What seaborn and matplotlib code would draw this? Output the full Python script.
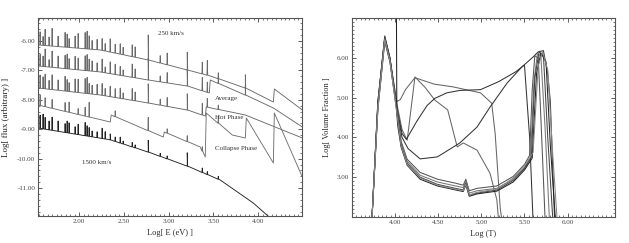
import numpy as np
import pandas as pd
import matplotlib
matplotlib.use("Agg")
import matplotlib.pyplot as plt
from matplotlib.ticker import MultipleLocator, FormatStrFormatter
import seaborn as sns

# ---------------- left panel data ----------------
line_energies = [1.564, 1.597, 1.620, 1.664, 1.698, 1.765, 1.843, 1.866, 1.888, 1.955,
                 1.989, 2.067, 2.089, 2.112, 2.145, 2.201, 2.257, 2.291, 2.347, 2.403,
                 2.459, 2.492, 2.593, 2.626, 2.772, 2.906, 2.984, 3.208, 3.376, 3.432,
                 3.555, 3.857]

# continuum (baseline) vertices of each spectrum
cont_a_x = [1.541, 2.235, 2.772, 3.208, 3.465, 3.857, 4.170, 4.181, 4.494]
cont_a_y = [-6.136, -6.306, -6.646, -6.986, -7.190, -7.599, -8.075, -7.633, -8.347]
cont_b_x = [1.541, 2.235, 2.772, 3.208, 3.454, 3.465, 3.857, 4.170, 4.494]
cont_b_y = [-6.850, -7.054, -7.327, -7.531, -7.769, -7.327, -7.837, -8.279, -8.925]
cont_c_x = [1.541, 2.235, 2.772, 3.208, 3.410, 3.420, 3.857, 4.494]
cont_c_y = [-7.599, -7.837, -8.109, -8.347, -8.551, -8.245, -8.517, -9.299]
cont_d_x = [1.541, 2.347, 2.358, 2.940, 2.951, 3.353, 3.409, 3.420, 3.711, 3.857, 3.868, 4.170, 4.181, 4.494]
cont_d_y = [-8.177, -8.755, -8.517, -9.265, -9.095, -9.605, -9.946, -8.449, -9.197, -9.299, -8.619, -10.150, -8.449, -10.626]
cont_e_x = [1.541, 2.347, 2.772, 3.208, 3.577, 3.946, 4.136]
cont_e_y = [-8.960, -9.360, -9.776, -10.252, -10.728, -11.510, -12.020]

line_h_a = [0.45, 0.30, 0.55, 0.30, 0.60, 0.35, 0.50, 0.45, 0.30, 0.40, 0.50, 0.55, 0.60, 0.45, 0.30, 0.35,
            0.40, 0.25, 0.45, 0.30, 0.35, 0.25, 0.40, 0.35, 0.85, 0.25, 0.40, 0.60, 0.40, 0.50, 0.20, 0.45]
line_h_b = [0.40, 0.35, 0.60, 0.25, 0.55, 0.40, 0.45, 0.50, 0.35, 0.45, 0.40, 0.50, 0.55, 0.40, 0.35, 0.30,
            0.45, 0.20, 0.40, 0.35, 0.30, 0.20, 0.45, 0.30, 0.75, 0.20, 0.35, 0.55, 0.45, 0.35, 0.15, 0.30]
line_h_c = [0.45, 0.40, 0.50, 0.30, 0.50, 0.35, 0.50, 0.40, 0.30, 0.45, 0.45, 0.50, 0.55, 0.35, 0.30, 0.35,
            0.40, 0.25, 0.35, 0.30, 0.35, 0.20, 0.40, 0.30, 0.65, 0.20, 0.30, 0.55, 0.40, 0.30, 0.15, 0.00]
line_h_d = [0.35, 0.00, 0.30, 0.00, 0.30, 0.00, 0.30, 0.00, 0.35, 0.00, 0.20, 0.30, 0.00, 0.50, 0.00, 0.00,
            0.00, 0.00, 0.00, 0.20, 0.00, 0.00, 0.00, 0.00, 0.45, 0.00, 0.15, 0.20, 0.15, 0.00, 0.25, 0.00]
line_h_e = [0.45, 0.50, 0.40, 0.30, 0.45, 0.35, 0.30, 0.40, 0.35, 0.25, 0.35, 0.45, 0.35, 0.30, 0.20, 0.20,
            0.35, 0.25, 0.20, 0.15, 0.20, 0.10, 0.15, 0.10, 0.40, 0.10, 0.10, 0.45, 0.15, 0.10, 0.10, 0.00]

left_xticks = [2.0, 2.5, 3.0, 3.5, 4.0]
left_yticks = [-6.0, -7.0, -8.0, -9.0, -10.0, -11.0]
left_labels = [("250 km/s", 3.02, -5.73, "center"), ("1500 km/s", 2.20, -10.12, "center"),
               ("Average", 3.52, -7.97, "left"), ("Hot Phase", 3.52, -8.59, "left"),
               ("Collapse Phase", 3.52, -9.64, "left")]

# ---------------- right panel data ----------------
r1_x = [3.73, 3.80, 3.88, 3.94, 4.02, 4.08, 4.14, 4.23, 4.35, 4.46, 4.61, 4.72, 4.79, 4.95, 5.10, 5.18, 5.20]
r1_y = [1.9, 4.9, 6.52, 6.0, 4.85, 4.2, 3.93, 5.52, 5.25, 4.94, 4.69, 3.76, 3.86, 3.68, 3.10, 2.43, 1.9]
r2_x = [3.73, 3.80, 3.88, 3.94, 4.02, 4.06, 4.12, 4.23, 4.45, 4.67, 4.99, 5.12, 5.16, 5.22, 5.24]
r2_y = [1.9, 4.8, 6.48, 5.95, 4.9, 4.95, 5.2, 5.50, 5.34, 5.27, 5.12, 4.86, 4.1, 2.2, 1.9]
r3_x = [3.73, 3.80, 3.88, 3.94, 4.02, 4.08, 4.13, 4.25, 4.37, 4.46, 4.60, 4.75, 4.99, 5.20, 5.40, 5.47, 5.50, 5.56, 5.60]
r3_y = [1.9, 4.9, 6.50, 5.98, 4.75, 4.1, 3.95, 4.4, 4.8, 4.98, 5.12, 5.18, 5.20, 5.40, 5.65, 5.77, 5.82, 4.0, 1.9]
r4_x = [3.73, 3.80, 3.88, 3.94, 4.02, 4.08, 4.15, 4.29, 4.49, 4.75, 4.95, 5.10, 5.30, 5.47, 5.60, 5.66, 5.72, 5.77, 5.80, 5.85]
r4_y = [1.9, 4.85, 6.55, 6.0, 4.7, 4.0, 3.72, 3.46, 3.51, 3.86, 4.26, 4.76, 5.37, 5.77, 6.02, 6.15, 6.18, 5.6, 4.9, 1.9]
b1_x = [3.73, 3.80, 3.88, 3.94, 4.02, 4.07, 4.14, 4.29, 4.49, 4.70, 4.79, 4.82, 4.86, 4.95, 5.18, 5.37, 5.50, 5.56, 5.59, 5.62, 5.66, 5.70, 5.74]
b1_y = [1.9, 4.8, 6.50, 5.95, 4.75, 3.9, 3.45, 3.12, 2.95, 2.85, 2.80, 2.95, 2.66, 2.72, 2.78, 3.02, 3.32, 3.55, 5.2, 6.05, 6.0, 4.0, 1.9]
b2_x = [3.73, 3.80, 3.88, 3.94, 4.02, 4.07, 4.14, 4.29, 4.49, 4.70, 4.79, 4.82, 4.86, 4.95, 5.18, 5.37, 5.50, 5.57, 5.61, 5.65, 5.69, 5.74, 5.79]
b2_y = [1.9, 4.75, 6.45, 5.9, 4.7, 3.85, 3.40, 3.05, 2.88, 2.78, 2.74, 2.90, 2.60, 2.66, 2.72, 2.95, 3.25, 3.50, 5.4, 6.10, 6.05, 4.2, 1.9]
b3_x = [3.73, 3.80, 3.88, 3.94, 4.02, 4.07, 4.14, 4.29, 4.49, 4.70, 4.79, 4.82, 4.86, 4.95, 5.18, 5.37, 5.50, 5.58, 5.62, 5.67, 5.72, 5.77, 5.83]
b3_y = [1.9, 4.7, 6.40, 5.9, 4.65, 3.8, 3.35, 3.00, 2.82, 2.72, 2.68, 2.85, 2.55, 2.60, 2.68, 2.92, 3.22, 3.50, 5.5, 6.15, 6.05, 4.0, 1.9]
b4_x = [4.015, 4.02, 4.03, 4.07, 4.14, 4.29, 4.49, 4.70, 4.79, 4.82, 4.86, 4.95, 5.18, 5.37, 5.50, 5.59, 5.64, 5.69, 5.75, 5.80, 5.86]
b4_y = [7.3, 4.6, 4.3, 3.75, 3.30, 2.95, 2.78, 2.68, 2.64, 2.80, 2.52, 2.58, 2.65, 2.88, 3.18, 3.48, 5.6, 6.12, 5.9, 3.8, 1.9]
b5_x = [3.73, 3.80, 3.88, 3.94, 4.02, 4.07, 4.14, 4.29, 4.49, 4.70, 4.79, 4.82, 4.86, 4.95, 5.18, 5.37, 5.52, 5.60, 5.66, 5.71, 5.77, 5.83, 5.88]
b5_y = [1.9, 4.7, 6.45, 5.92, 4.6, 3.78, 3.32, 2.98, 2.80, 2.70, 2.66, 2.82, 2.55, 2.62, 2.70, 2.98, 3.35, 3.62, 5.8, 6.15, 5.7, 3.5, 1.9]

right_xticks = [4.0, 4.5, 5.0, 5.5, 6.0]
right_yticks = [3.0, 4.0, 5.0, 6.0]

# ---------------- style ----------------
sns.set_theme(style="ticks")
plt.rcParams["font.family"] = ["Liberation Serif", "DejaVu Serif"]
plt.rcParams["axes.linewidth"] = 0.8
FS = 5

fig = plt.figure(figsize=(6.29, 2.43), dpi=100)
axL = fig.add_axes([38 / 629, 1 - 216 / 243, 264 / 629, 198 / 243])
axR = fig.add_axes([352 / 629, 1 - 217 / 243, 263 / 629, 199 / 243])


def spectrum(cx, cy, heights):
    cx = np.asarray(cx, float)
    cy = np.asarray(cy, float)
    pts = list(zip(cx, cy))
    for e, h in zip(line_energies, heights):
        if h <= 0:
            continue
        base = np.interp(e, cx, cy)
        pts += [(e - 0.004, base), (e, base + h), (e + 0.004, base)]
    pts.sort(key=lambda p: p[0])
    return pd.DataFrame(pts, columns=["logE", "flux"])


spectra = [(cont_a_x, cont_a_y, line_h_a, "#6a6a6a"),
           (cont_b_x, cont_b_y, line_h_b, "#6a6a6a"),
           (cont_c_x, cont_c_y, line_h_c, "#6a6a6a"),
           (cont_d_x, cont_d_y, line_h_d, "#707070"),
           (cont_e_x, cont_e_y, line_h_e, "#222222")]
for cx, cy, hh, col in spectra:
    df = spectrum(cx, cy, hh)
    sns.lineplot(data=df, x="logE", y="flux", sort=False, estimator=None,
                 color=col, lw=0.65, ax=axL)

for txt, x, y, ha in left_labels:
    axL.text(x, y, txt, fontsize=FS, ha=ha, va="center", color="#333333")

axL.set_xlim(1.54, 4.49)
axL.set_ylim(-11.95, -5.22)
axL.set_xticks(left_xticks)
axL.set_yticks(left_yticks)
axL.xaxis.set_major_formatter(FormatStrFormatter("%.2f"))
axL.yaxis.set_major_formatter(FormatStrFormatter("%.2f"))
axL.xaxis.set_minor_locator(MultipleLocator(0.05))
axL.yaxis.set_minor_locator(MultipleLocator(0.2))
axL.set_xlabel("Log[ E (eV) ]", fontsize=FS + 1, labelpad=4)
axL.set_ylabel("Log[ flux (arbitrary) ]", fontsize=FS + 1.5, labelpad=5)

right_curves = [(r1_x, r1_y), (r2_x, r2_y), (r3_x, r3_y), (r4_x, r4_y),
                (b1_x, b1_y), (b2_x, b2_y), (b3_x, b3_y), (b4_x, b4_y), (b5_x, b5_y)]
right_cols = ["#666666", "#666666", "#333333", "#333333",
              "#555555", "#777777", "#444444", "#222222", "#888888"]
for (xx, yy), col in zip(right_curves, right_cols):
    df = pd.DataFrame({"logT": xx, "vol": yy})
    sns.lineplot(data=df, x="logT", y="vol", sort=False, estimator=None,
                 color=col, lw=0.75, ax=axR)

axR.set_xlim(3.5, 6.55)
axR.set_ylim(2.0, 7.0)
axR.set_xticks(right_xticks)
axR.set_yticks(right_yticks)
axR.xaxis.set_major_formatter(FormatStrFormatter("%.2f"))
axR.yaxis.set_major_formatter(FormatStrFormatter("%.2f"))
axR.xaxis.set_minor_locator(MultipleLocator(0.05))
axR.yaxis.set_minor_locator(MultipleLocator(0.1))
axR.set_xlabel("Log (T)", fontsize=FS + 1, labelpad=4)
axR.set_ylabel("Log[ Volume Fraction ]", fontsize=FS + 1, labelpad=4)

for ax in (axL, axR):
    ax.tick_params(which="both", direction="in", top=True, right=True,
                   labelsize=FS, colors="#444444", pad=2)
    ax.tick_params(which="major", length=3, width=0.6)
    ax.tick_params(which="minor", length=1.5, width=0.5)
    for sp in ax.spines.values():
        sp.set_color("#555555")

fig.savefig("out.png", dpi=100)
